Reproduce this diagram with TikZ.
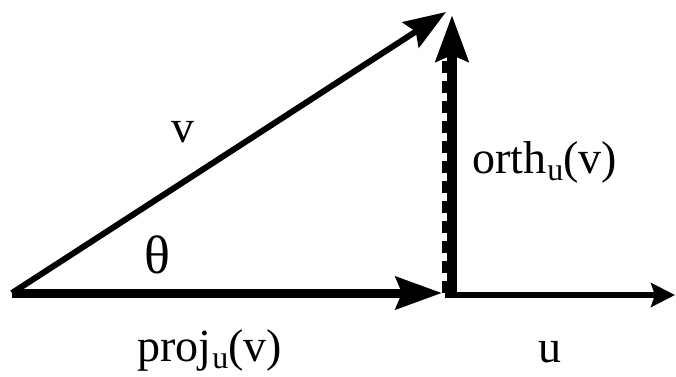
\documentclass[tikz,border=0pt]{standalone}
\usepackage{fontspec}
\setmainfont{Liberation Serif}
\usetikzlibrary{arrows.meta}
\newcommand\mysubu{\kern1pt\raisebox{-7pt}{\fontsize{32}{32}\selectfont u}}
\begin{document}
\begin{tikzpicture}[x=1pt,y=-1pt,
  lbl/.style={inner sep=0pt,font=\fontsize{46}{50}\selectfont},
  bighead/.style={-{Stealth[length=46pt,width=32pt,inset=6pt]}},
  smallhead/.style={-{Stealth[length=24pt,width=24pt,inset=4pt]}}]
\useasboundingbox (0,0) rectangle (676,376);
\coordinate (O) at (12,293);
\coordinate (V) at (446,12);
\coordinate (P) at (442,293);
\coordinate (Pu) at (445,295);
\coordinate (U) at (675,295);
\coordinate (Ob) at (452,296);
\coordinate (Ot) at (452,15);
\coordinate (Db) at (444.5,293);
\coordinate (Dt) at (444.5,60);
% u
\draw[line width=6pt,smallhead] (Pu) -- (U);
% orth
\draw[line width=5pt,dash pattern=on 12pt off 8pt] (Db) -- (Dt);
\draw[line width=10pt,bighead] (Ob) -- (Ot);
% proj
\draw[line width=9pt,bighead] (O) -- (P);
% v
\draw[line width=6pt,-{Stealth[length=42pt,width=30pt,inset=6pt]}] (O) -- (V);
% labels
\node[lbl,anchor=base] (lv) at (183,142) {v};
\node[lbl,anchor=base,font=\fontsize{54}{58}\selectfont] (lt) at (157,273) {θ};
\node[lbl,anchor=base west] (lo) at (472,173) {orth\mysubu(v)};
\node[lbl,anchor=base west] (lp) at (137,361) {proj\mysubu(v)};
\node[lbl,anchor=base] (lu) at (550,362) {u};
\end{tikzpicture}
\end{document}
